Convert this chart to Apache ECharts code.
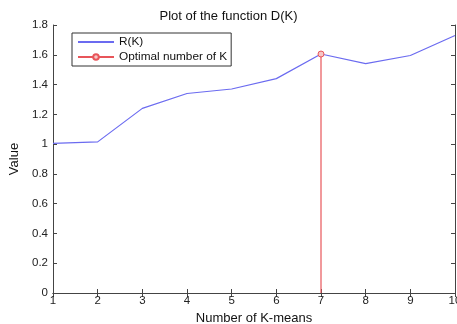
<!DOCTYPE html>
<html>
<head>
<meta charset="utf-8">
<script src="https://cdn.jsdelivr.net/npm/echarts@6/dist/echarts.min.js"></script>
<style>
  html, body { margin: 0; padding: 0; background: #fff; }
  #chart { width: 457px; height: 324px; }
</style>
</head>
<body>
<div id="chart"></div>
<script>
var kValues = [1, 2, 3, 4, 5, 6, 7, 8, 9, 10];
var rValues = [1.005, 1.015, 1.24, 1.34, 1.37, 1.44, 1.605, 1.54, 1.595, 1.73];
var optimalK = 7;
var optimalValue = 1.605;

var myChart = echarts.init(document.getElementById('chart'));

var font = 'Liberation Sans, Arial, sans-serif';
var tickStyle = {show: true, inside: true, length: 4, lineStyle: {color: '#444'}};

option = {
    animation: false,
    title: {
        text: 'Plot of the function D(K)',
        left: 'center',
        top: 5,
        textStyle: {fontFamily: font, fontSize: 13, fontWeight: 'normal', color: '#111'}
    },
    legend: {
        orient: 'vertical',
        left: 72,
        top: 33,
        padding: [3, 4, 3, 5],
        itemGap: 3,
        itemWidth: 36,
        itemHeight: 7,
        borderColor: '#333',
        borderWidth: 1,
        backgroundColor: '#fff',
        textStyle: {fontFamily: font, fontSize: 11.8, color: '#111'},
        data: [
            {name: 'R(K)', itemStyle: {opacity: 0}},
            {name: 'Optimal number of K'}
        ]
    },
    grid: {left: 53, right: 2, top: 25, bottom: 31, outerBoundsMode: 'none'},
    xAxis: [{
        type: 'value',
        min: 1,
        max: 10,
        interval: 1,
        name: 'Number of K-means',
        nameLocation: 'middle',
        nameGap: 17,
        nameTextStyle: {fontFamily: font, fontSize: 13, color: '#111'},
        axisLine: {lineStyle: {color: '#444'}},
        axisTick: tickStyle,
        axisLabel: {fontFamily: font, fontSize: 11.5, color: '#222', margin: 2},
        splitLine: {show: false}
    }, {
        type: 'value',
        position: 'top',
        min: 1,
        max: 10,
        interval: 1,
        axisLine: {show: true, lineStyle: {color: '#444'}},
        axisTick: tickStyle,
        axisLabel: {show: false},
        splitLine: {show: false}
    }],
    yAxis: [{
        type: 'value',
        min: 0,
        max: 1.8,
        interval: 0.2,
        name: 'Value',
        nameLocation: 'middle',
        nameGap: 27,
        nameTextStyle: {fontFamily: font, fontSize: 13, color: '#111'},
        axisLine: {show: true, lineStyle: {color: '#444'}},
        axisTick: tickStyle,
        axisLabel: {fontFamily: font, fontSize: 11.5, color: '#222', margin: 5},
        splitLine: {show: false}
    }, {
        type: 'value',
        position: 'right',
        min: 0,
        max: 1.8,
        interval: 0.2,
        axisLine: {show: true, lineStyle: {color: '#444'}},
        axisTick: tickStyle,
        axisLabel: {show: false},
        splitLine: {show: false}
    }],
    series: [{
        name: 'R(K)',
        type: 'line',
        symbol: 'none',
        lineStyle: {color: '#6b6bf0', width: 1.2},
        itemStyle: {color: '#6b6bf0'},
        data: kValues.map(function(k, i) { return [k, rValues[i]]; })
    }, {
        name: 'Optimal number of K',
        type: 'line',
        symbol: 'circle',
        symbolSize: 6,
        lineStyle: {color: '#e8555a', width: 1.2},
        itemStyle: {color: '#f6c6c6', borderColor: '#e8555a', borderWidth: 1},
        data: [
            {value: [optimalK, 0], symbol: 'none'},
            {value: [optimalK, optimalValue]}
        ]
    }]
};

myChart.setOption(option);
</script>
</body>
</html>
